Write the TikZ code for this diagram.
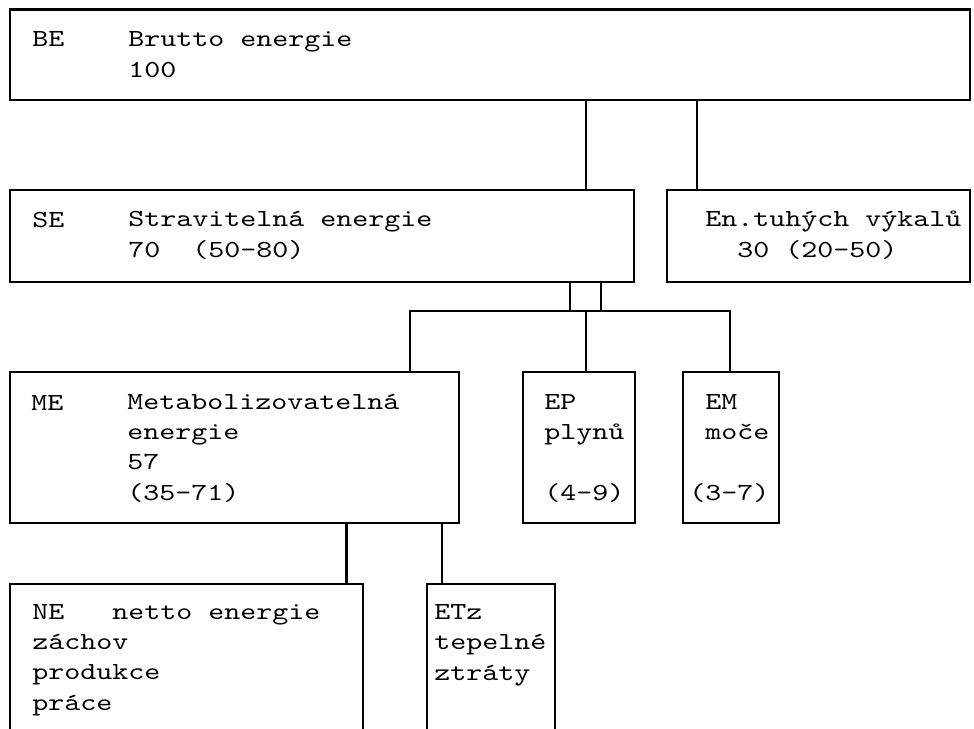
\documentclass[tikz,border=0pt]{standalone}
\usepackage{fontspec}
\setmainfont[FakeStretch=1.244]{lmmono10-regular.otf}
\usetikzlibrary{positioning}
\newcommand\indentby[1]{\hspace*{#1\fontcharwd\font`\ }}

\tikzset{
  box/.style={draw, line width=1.5pt, inner sep=0pt, anchor=north west},
  % base west = baseline of the last line
  txt/.style={anchor=base west, inner sep=0pt, align=left},
  link/.style={line width=1.5pt},
}

\begin{document}
\begin{tikzpicture}[x=0.025cm, y=-0.025cm,
    every node/.append style={font=\fontsize{17.43pt}{21.34pt}\selectfont}]
  \useasboundingbox (0,0) rectangle (974,729);
  \clip (0,0) rectangle (974,729);

  % boxes
  \node[box, minimum width=24cm, minimum height=2.25cm] (be) at (9,8.5) {};
  \node[box, minimum width=15.6cm, minimum height=2.3cm] (se) at (9,189) {};
  \node[box, minimum width=7.575cm, minimum height=2.3cm] (en) at (666,189) {};
  \node[box, minimum width=11.225cm, minimum height=3.775cm] (me) at (9,371) {};
  \node[box, minimum width=2.8cm, minimum height=3.775cm] (ep) at (522,371) {};
  \node[box, minimum width=2.4cm, minimum height=3.775cm] (em) at (682,371) {};
  \node[box, minimum width=8.825cm, minimum height=3.925cm] (ne) at (9,583) {};
  \node[box, minimum width=3.2cm, minimum height=3.925cm] (etz) at (426,583) {};

  % texts
  \node[txt] (beTag) at (32,47) {BE};
  \node[txt] (beText) at (128,77) {Brutto energie\\100};
  \node[txt] (seTag) at (32,227) {SE};
  \node[txt] (seText) at (128,257) {Stravitelná energie\\70\indentby{2}(50-80)};
  \node[txt] (enText) at (705,257) {En.tuhých výkalů\\\indentby{2}30 (20-50)};
  \node[txt] (meTag) at (31,410) {ME};
  \node[txt] (meText) at (127,500) {Metabolizovatelná\\energie\\57\\(35-71)};
  \node[txt] (epText) at (544,500) {EP\\plynů\\\mbox{}\\(4-9)};
  \node[txt] (emText) at (689,500) {\indentby{1}EM\\\indentby{1}moče\\\mbox{}\\(3-7)};
  \node[txt] (neText) at (32,710) {NE\indentby{3}netto energie\\záchov\\produkce\\práce};
  \node[txt] (etzText) at (434,680) {ETz\\tepelné\\ztráty};

  % connectors
  \coordinate (busL) at (410,311);
  \coordinate (busR) at (730,311);
  \draw[link] (be.south -| 586,0) -- (se.north -| 586,0);
  \draw[link] (be.south -| 697,0) -- (en.north -| 697,0);
  \draw[link] (se.south -| 570,0) -- (busL -| 570,0);
  \draw[link] (se.south -| 601,0) -- (busL -| 601,0);
  \draw[link] (me.north -| busL) -- (busL) -- (busR) -- (em.north -| busR);
  \draw[link] (busL -| 586,0) -- (ep.north -| 586,0);
  \draw[link] (me.south -| 346.5,0) -- (ne.north -| 346.5,0);
  \draw[link] (me.south -| 442,0) -- (etz.north -| 442,0);
\end{tikzpicture}
\end{document}
